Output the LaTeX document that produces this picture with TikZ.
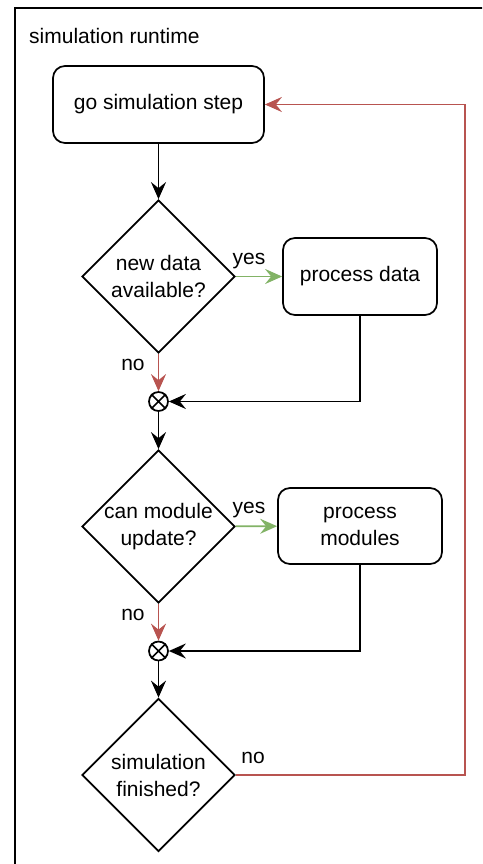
\documentclass[tikz,border=0pt]{standalone}
\usepackage{fontspec}
\setmainfont{Liberation Sans}
\usetikzlibrary{shapes.geometric,arrows.meta}
\definecolor{noRed}{HTML}{B85450}
\definecolor{yesGreen}{HTML}{82B366}
\tikzset{
  base/.style={font=\fontsize{21}{27}\selectfont, line width=1.75pt},
  stepbox/.style={base, draw, rounded corners=12pt, align=center, inner sep=0pt},
  decision/.style={base, draw, diamond, minimum width=153pt, minimum height=153pt, inner sep=-12pt, align=center},
  junction/.style={draw, circle, line width=1.75pt, minimum size=19pt, inner sep=0pt},
  flow/.style={line width=1.75pt, -{Stealth[length=17pt, width=15pt, inset=6pt]}},
  lbl/.style={font=\fontsize{21}{25}\selectfont, inner sep=0pt, anchor=base},
}
\begin{document}
\begin{tikzpicture}[x=1pt, y=-1pt]
\useasboundingbox (0,0) rectangle (482,864);
\clip (0,0) rectangle (482,864);
\fill[white] (0,0) rectangle (482,864);
\draw[line width=2pt] (15,8) rectangle (560,920);
\node[lbl, anchor=base west] (title) at (29,44) {simulation runtime};

\node[stepbox, minimum width=211pt, minimum height=77pt] (go) at (158.5,104.5) {go simulation step};
\node[decision] (d1) at (158.5,276.5) {new data\\available?};
\node[stepbox, minimum width=154pt, minimum height=77pt] (pd) at (360,276.5) {process data};
\node[junction] (j1) at (158.5,401.5) {};
\node[decision] (d2) at (158.5,526.5) {can module\\update?};
\node[stepbox, minimum width=164pt, minimum height=76pt] (pm) at (360,526) {process\\modules};
\node[junction] (j2) at (158.5,651) {};
\node[decision] (d3) at (158.5,775) {simulation\\finished?};
\coordinate (c1) at (465,775);
\coordinate (c2) at (465,104.5);

\foreach \j in {j1,j2}{
  \draw[line width=1.75pt] (\j.north west) -- (\j.south east) (\j.north east) -- (\j.south west);
}

\draw[flow] (go) -- (d1);
\draw[flow, yesGreen] (d1) -- (pd);
\draw[flow, noRed] (d1) -- (j1);
\draw[flow] (pd.south) |- (j1);
\draw[flow] (j1) -- (d2);
\draw[flow, yesGreen] (d2) -- (pm);
\draw[flow, noRed] (d2) -- (j2);
\draw[flow] (pm.south) |- (j2);
\draw[flow] (j2) -- (d3);
\draw[flow, noRed] (d3.east) -- (c1) -- (c2) -- (go.east);

\node[lbl] (y1) at (249,264) {yes};
\node[lbl] (n1) at (133,370) {no};
\node[lbl] (y2) at (249,513) {yes};
\node[lbl] (n2) at (133,620) {no};
\node[lbl] (n3) at (253,763) {no};
\end{tikzpicture}
\end{document}
